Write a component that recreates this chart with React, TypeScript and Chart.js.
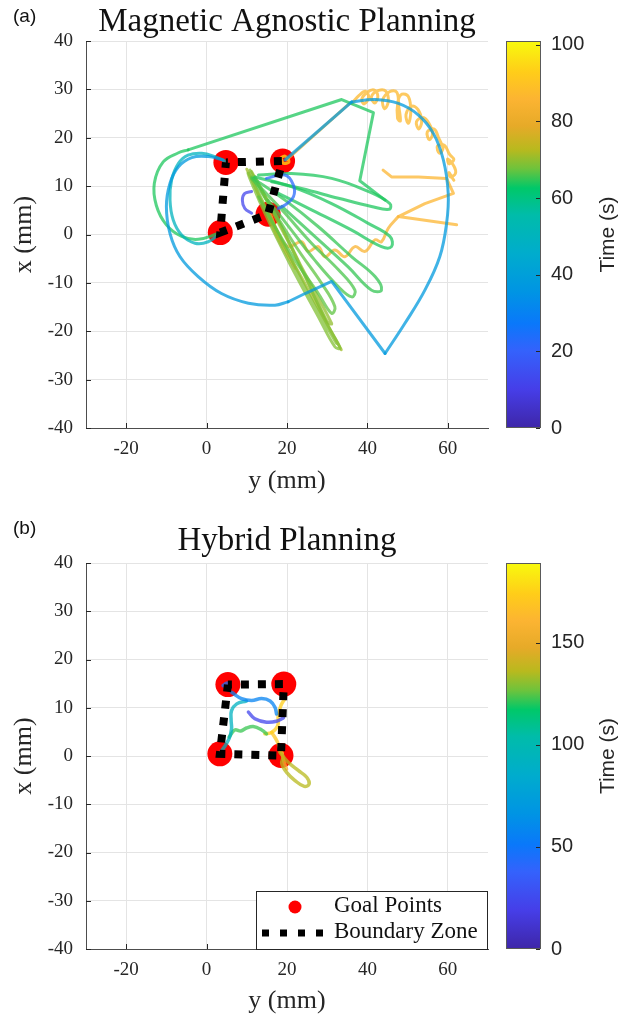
import React, { useEffect, useRef } from "react";
import { Chart, registerables } from "chart.js";

Chart.register(...registerables);

type P = [number, number]; // [y (mm) horizontal, x (mm) vertical]

// ---------------- axes / colour bar ----------------
const horizTicks = [-20, 0, 20, 40, 60];
const vertTicks = [-40, -30, -20, -10, 0, 10, 20, 30, 40];
const timeTicksA = [0, 20, 40, 60, 80, 100];
const timeTicksB = [0, 50, 100, 150];
const timeMaxA = 101;
const timeMaxB = 189;

// parula-like colour map
const cmapStops = [0, 0.1, 0.2, 0.27, 0.35, 0.45, 0.55, 0.62, 0.67, 0.72, 0.78, 0.85, 0.92, 1];
const cmapColors: number[][] = [
  [62, 38, 168],
  [70, 62, 232],
  [52, 98, 252],
  [10, 120, 250],
  [0, 148, 228],
  [0, 172, 205],
  [0, 188, 170],
  [0, 200, 105],
  [110, 195, 60],
  [185, 185, 30],
  [230, 170, 40],
  [252, 180, 50],
  [255, 205, 25],
  [248, 250, 13],
];

// ---------------- (a) Magnetic Agnostic Planning ----------------
const goalsA: P[] = [[4.8, 14.9], [18.9, 15.2], [15.3, 4.2], [3.4, 0.4]];

const magPurpleArc: P[] = [[11.2, 8.9], [9.5, 8.5], [8.9, 7.1], [9.5, 5.4], [11.2, 4.4]];
const magBlueRing: P[] = [[14.9, 11.6], [19.5, 12.3], [21.6, 10.2], [21.6, 7.8], [19.5, 6.1], [17.8, 5.4]];
const magBlueLeft: P[] = [[4.1, 15.4], [0.4, 16.1], [-3.7, 15.9], [-7.0, 14.0], [-9.1, 10.6], [-10.0, 5.8], [-9.1, 0.2], [-6.6, -4.6], [-2.1, -8.7], [3.7, -12.2], [10.4, -14.2], [17.0, -14.6], [20.3, -13.9]];
const magBlueBottom: P[] = [[20.3, -13.9], [24.5, -12.2], [31.1, -9.7], [44.4, -24.6]];
const magBlueRight: P[] = [[44.4, -24.6], [49.3, -18.4], [54.3, -11.5], [58.0, -4.6], [59.7, 2.3], [60.1, 8.5], [58.9, 15.4], [56.4, 20.9], [52.7, 24.7], [47.7, 27.1], [41.9, 27.9], [36.1, 27.4]];
const magBlueTop: P[] = [[36.1, 27.4], [19.5, 15.4]];
const magTealLoop: P[] = [[5.0, 15.0], [2.1, 16.1], [-1.2, 16.8], [-4.6, 16.4], [-7.0, 14.7], [-8.7, 11.3], [-9.1, 7.1], [-8.3, 3.0], [-6.2, -0.1], [-2.9, -1.8], [0.4, -1.5], [3.3, 0.2]];
const magGreenLeft: P[] = [[2.9, 0.2], [-2.1, -1.0], [-6.2, -0.4], [-10.0, 2.0], [-12.5, 6.0], [-13.0, 10.6], [-10.8, 15.0], [-7.0, 16.9], [-4.6, 17.5]];
const magGreenTop: P[] = [[-4.6, 17.5], [33.6, 27.9], [41.5, 25.2], [38.1, 11.1], [44.4, 7.1]];
const magPetalA: P[] = [[12.9, 12.3], [21.1, 12.6], [31.1, 11.6], [40.2, 8.9], [45.6, 6.4], [45.4, 5.2], [41.0, 5.8], [32.8, 7.5], [23.6, 9.5], [16.2, 10.9]];
const magPetalB: P[] = [[12.0, 11.9], [21.1, 9.9], [31.1, 6.4], [40.2, 2.3], [45.6, -0.4], [46.0, -2.5], [43.5, -2.5], [36.1, 0.9], [26.1, 5.1], [16.2, 9.2]];
const magPetalC: P[] = [[11.6, 11.6], [19.5, 7.1], [27.8, 1.6], [36.1, -4.6], [41.9, -8.7], [43.5, -11.5], [41.0, -11.5], [35.2, -6.7], [26.9, -0.4], [18.7, 5.8]];
const magPetalD: P[] = [[11.2, 11.6], [18.7, 5.1], [26.1, -1.8], [32.8, -7.3], [36.9, -11.5], [36.1, -12.9], [32.8, -10.8], [26.9, -5.3], [21.1, 0.9], [15.3, 7.1]];
const magPetalE: P[] = [[11.2, 11.9], [17.0, 4.4], [22.8, -3.2], [28.6, -10.1], [31.9, -14.9], [31.1, -16.3], [27.8, -12.2], [22.0, -5.3], [17.0, 1.6], [12.9, 7.8]];
const magBundleA: P[] = [[10.8, 13.3], [17.8, 3.0], [24.5, -8.7], [30.3, -19.0], [33.2, -23.5], [31.9, -23.2], [27.8, -17.0], [21.1, -6.7], [14.5, 4.4], [10.4, 12.6], [19.5, -2.5], [26.1, -13.5], [32.3, -22.5]];
const magBundleB: P[] = [[11.2, 13.0], [23.6, -6.7], [31.1, -18.4], [30.0, -18.0], [22.0, -4.0], [12.0, 12.0]];
const magBundleC: P[] = [[10.0, 13.5], [16.5, 2.0], [25.0, -11.0], [33.5, -23.8]];
const magOrangeLink: P[] = [[19.9, 15.4], [35.7, 27.2]];
const magOrangeCoil: P[] = [
  [36.1, 27.1], [38.0, 28.8], [39.5, 29.6], [40.3, 28.4], [39.2, 27.0], [38.6, 28.0], [40.0, 29.4],
  [41.6, 29.9], [42.6, 28.6], [41.8, 27.2], [41.0, 28.5], [42.8, 29.8],
  [44.6, 29.6], [45.2, 27.5], [44.3, 26.0], [43.8, 27.8], [45.5, 29.5],
  [47.3, 29.4], [47.8, 26.5], [48.2, 23.5], [47.5, 24.0], [47.6, 27.5], [48.6, 29.0],
  [50.2, 28.5], [50.8, 25.5], [50.2, 23.0], [49.6, 24.8], [51.0, 26.5],
  [52.6, 25.8], [53.5, 23.5], [52.8, 21.8], [52.2, 23.3], [53.8, 24.2],
  [55.3, 23.0], [56.2, 20.8], [55.4, 19.6], [54.9, 21.2], [56.6, 21.8],
  [57.8, 19.8], [58.8, 17.8], [57.9, 16.8], [57.4, 18.3], [59.2, 18.4],
  [60.4, 16.6], [61.5, 15.5], [60.3, 14.6], [60.0, 15.6], [61.6, 14.0], [61.9, 12.6], [60.6, 11.9], [60.3, 12.8], [61.5, 11.2],
];
const magOrangeZ: P[] = [[43.9, 13.3], [46.0, 11.9], [52.7, 11.9], [59.7, 11.6], [61.4, 8.5], [54.3, 6.4], [47.7, 3.7], [62.2, 2.0]];
const magOrangeLower: P[] = [[15.8, 4.4], [17.8, 0.2], [20.3, -2.5], [23.6, -1.5], [25.3, -3.5], [27.8, -2.5], [29.4, -4.6], [31.9, -3.2], [34.4, -4.6], [36.9, -2.5], [39.4, -3.5], [41.9, -1.1], [43.5, -1.5], [45.2, 1.3], [47.7, 3.7]];
const magOrangeUnder: P[] = [[15.3, 4.0], [17.0, 0.5], [19.5, -3.5], [22.0, -7.0]];
const magYellowBlob: P[] = [[18.2, 15.7], [19.5, 16.2], [20.5, 15.0], [19.1, 14.7], [18.7, 15.4]];

const magSegments: P[][] = [
  magPurpleArc, magBlueRing, magBlueLeft, magBlueBottom, magBlueRight, magBlueTop, magTealLoop,
  magGreenLeft, magGreenTop, magPetalA, magPetalB, magPetalC, magPetalD, magPetalE,
  magBundleA, magBundleB, magBundleC, magOrangeLink, magOrangeCoil, magOrangeZ, magOrangeLower, magOrangeUnder, magYellowBlob,
];
const magSegmentTimes = [12, 22, 38, 38, 38, 38, 50, 64, 64, 64, 64, 65, 66, 67, 69, 70, 71, 86, 87, 86, 85, 84, 96];
const magStraight: P[][] = [magBlueBottom, magBlueTop, magGreenTop, magOrangeLink, magOrangeZ];

// ---------------- (b) Hybrid Planning ----------------
const goalsB: P[] = [[5.3, 14.8], [19.2, 14.9], [18.5, 0.1], [3.3, 0.45]];

const hybPurpleArc: P[] = [[10.4, 9.1], [12.0, 7.7], [14.9, 7.0], [17.4, 7.2], [19.1, 7.9]];
const hybBlueBlob: P[] = [[4.1, 14.6], [5.0, 15.1], [5.6, 14.8], [4.6, 14.4]];
const hybBlue: P[] = [[6.2, 13.2], [8.7, 11.9], [11.2, 11.5], [13.7, 11.9], [15.8, 11.4], [17.0, 10.1], [17.4, 8.7]];
const hybTeal: P[] = [[9.9, 11.4], [7.5, 10.8], [6.2, 9.4], [6.1, 7.4], [6.2, 5.6], [5.6, 3.6], [4.1, 1.5], [3.3, 0.6]];
const hybGreen: P[] = [[5.6, 3.9], [7.0, 5.4], [8.5, 5.2], [9.9, 5.8], [11.6, 6.1], [13.7, 5.4], [14.9, 4.6]];
const hybOliveLoop: P[] = [[18.2, 0.8], [20.3, -1.3], [22.8, -3.0], [24.9, -4.4], [25.5, -5.8], [24.3, -6.3], [22.0, -5.1], [19.9, -3.4], [18.7, -1.6], [19.1, -0.2]];
const hybOrange: P[] = [[18.8, 0.5], [19.3, -1.3], [19.9, -2.7]];
const hybYellow: P[] = [[19.5, 11.9], [18.5, 10.5], [17.8, 8.4], [17.7, 6.3], [16.2, 4.9], [14.5, 4.6]];
const hybYellowDown: P[] = [[16.2, 4.9], [17.5, 3.1], [18.3, 1.4], [18.8, 0.6]];

const hybSegments: P[][] = [hybPurpleArc, hybBlueBlob, hybBlue, hybTeal, hybGreen, hybOliveLoop, hybOrange, hybYellow, hybYellowDown];
const hybSegmentTimes = [23, 48, 57, 92, 122, 136, 158, 174, 170];
const hybStraight: P[][] = [];

// ---------------- helpers ----------------
const serif = '"Liberation Serif", "Times New Roman", serif';
const sans = '"Liberation Sans", Arial, sans-serif';
const ink = "#262626";

function cmap(f: number, alpha = 1): string {
  const v = Math.max(0, Math.min(1, f));
  let i = 0;
  while (i < cmapStops.length - 2 && v > cmapStops[i + 1]) i++;
  const a = cmapStops[i];
  const b = cmapStops[i + 1];
  const u = (v - a) / (b - a);
  const c0 = cmapColors[i];
  const c1 = cmapColors[i + 1];
  const c = c0.map((x, k) => Math.round(x + (c1[k] - x) * u));
  return `rgba(${c[0]},${c[1]},${c[2]},${alpha})`;
}

const toXY = (pts: P[]) => pts.map(([y, x]) => ({ x: y, y: x }));

interface PanelSpec {
  title: string;
  label: string;
  goals: P[];
  boundaryOrder: number[];
  segments: P[][];
  times: number[];
  straight: P[][];
  timeMax: number;
  timeTicks: number[];
  lineWidth: number;
  dashWidth: number;
  dash: number[];
  dashOffset: number;
  width: number;
  height: number;
  padTop: number;
  xAxisHeight: number;
  xTitlePadBottom: number;
  titleGap: number;
  labelY: number;
  legend: boolean;
}

function makeChart(canvas: HTMLCanvasElement, spec: PanelSpec) {
  const boundary: P[] = spec.boundaryOrder.map((i) => spec.goals[i]);

  const decor = {
    id: "decor",
    afterDraw(chart: any) {
      const ctx: CanvasRenderingContext2D = chart.ctx;
      const area = chart.chartArea;
      const xs = chart.scales.x;
      const ys = chart.scales.y;
      const cb = chart.scales.cb;
      ctx.save();

      // inward tick marks
      ctx.strokeStyle = ink;
      ctx.lineWidth = 1;
      ctx.beginPath();
      horizTicks.forEach((v) => {
        const px = Math.round(xs.getPixelForValue(v)) + 0.5;
        ctx.moveTo(px, area.bottom);
        ctx.lineTo(px, area.bottom - 5);
      });
      vertTicks.forEach((v) => {
        const py = Math.round(ys.getPixelForValue(v)) + 0.5;
        ctx.moveTo(area.left, py);
        ctx.lineTo(area.left + 5, py);
      });
      ctx.stroke();

      // title
      ctx.fillStyle = "#111";
      ctx.font = `33px ${serif}`;
      ctx.textAlign = "center";
      ctx.textBaseline = "alphabetic";
      ctx.fillText(spec.title, (area.left + area.right) / 2, area.top - spec.titleGap);

      // panel label
      ctx.font = `19px ${sans}`;
      ctx.textAlign = "left";
      ctx.textBaseline = "middle";
      ctx.fillStyle = "#111";
      ctx.fillText(spec.label, 13, spec.labelY);

      // colour bar
      const cbLeft = area.right + 18;
      const cbW = 35;
      const top = cb.getPixelForValue(cb.max);
      const bottom = cb.getPixelForValue(cb.min);
      const g = ctx.createLinearGradient(0, bottom, 0, top);
      cmapStops.forEach((s) => g.addColorStop(s, cmap(s)));
      ctx.fillStyle = g;
      ctx.fillRect(cbLeft, top, cbW, bottom - top);
      ctx.strokeStyle = "#5a5a5a";
      ctx.lineWidth = 1;
      ctx.strokeRect(cbLeft + 0.5, top + 0.5, cbW - 1, bottom - top - 1);
      ctx.beginPath();
      spec.timeTicks.forEach((v) => {
        const py = Math.round(cb.getPixelForValue(v)) + 0.5;
        ctx.moveTo(cbLeft + cbW - 1, py);
        ctx.lineTo(cbLeft + cbW - 5, py);
      });
      ctx.strokeStyle = ink;
      ctx.stroke();

      ctx.save();
      ctx.translate(area.right + 120, (top + bottom) / 2);
      ctx.rotate(-Math.PI / 2);
      ctx.font = `21px ${sans}`;
      ctx.textAlign = "center";
      ctx.textBaseline = "middle";
      ctx.fillStyle = ink;
      ctx.fillText("Time (s)", 0, 0);
      ctx.restore();

      // legend
      if (spec.legend) {
        const bw = 232;
        const bh = 59;
        const bx = area.right - bw;
        const by = area.bottom - bh + 1;
        ctx.fillStyle = "#fff";
        ctx.fillRect(bx, by, bw, bh);
        ctx.strokeStyle = ink;
        ctx.lineWidth = 1;
        ctx.strokeRect(bx + 0.5, by + 0.5, bw - 1, bh - 1);
        ctx.fillStyle = "#ff0000";
        ctx.beginPath();
        ctx.arc(bx + 39, by + 16, 6.5, 0, Math.PI * 2);
        ctx.fill();
        ctx.save();
        ctx.strokeStyle = "#000";
        ctx.lineWidth = 7;
        ctx.lineCap = "butt";
        ctx.setLineDash([7, 11]);
        ctx.beginPath();
        ctx.moveTo(bx + 6, by + 42);
        ctx.lineTo(bx + 68, by + 42);
        ctx.stroke();
        ctx.restore();
        ctx.fillStyle = "#111";
        ctx.font = `23px ${serif}`;
        ctx.textAlign = "left";
        ctx.textBaseline = "middle";
        ctx.fillText("Goal Points", bx + 78, by + 15);
        ctx.fillText("Boundary Zone", bx + 78, by + 41);
      }
      ctx.restore();
    },
  };

  const datasets: any[] = [
    {
      type: "line",
      data: toXY(boundary),
      xAxisID: "x",
      yAxisID: "y",
      borderColor: "#000",
      borderWidth: spec.dashWidth,
      borderDash: spec.dash,
      borderDashOffset: spec.dashOffset,
      borderCapStyle: "butt",
      pointRadius: 0,
      tension: 0,
      fill: false,
      order: 0,
    },
    ...spec.segments.map((s, i) => ({
      type: "line",
      data: toXY(s),
      xAxisID: "x",
      yAxisID: "y",
      borderColor: cmap(spec.times[i] / spec.timeMax, 0.75),
      borderWidth: spec.lineWidth,
      pointRadius: 0,
      tension: spec.straight.includes(s) ? 0 : 0.4,
      borderCapStyle: "round",
      borderJoinStyle: "round",
      fill: false,
      order: 10,
    })),
    {
      type: "scatter",
      data: toXY(spec.goals),
      xAxisID: "x",
      yAxisID: "y",
      pointRadius: 12.5,
      pointBackgroundColor: "#ff0000",
      backgroundColor: "#ff0000",
      pointBorderWidth: 0,
      borderWidth: 0,
      order: 100,
    },
  ];

  const gridCfg = { color: "#e4e4e4", lineWidth: 1, drawTicks: false };
  const borderCfg = { display: true, color: "#4d4d4d", width: 1 };

  return new Chart(canvas, {
    type: "scatter",
    data: { datasets },
    plugins: [decor],
    options: {
      responsive: false,
      animation: false,
      events: [],
      layout: { padding: { top: spec.padTop, left: 0, right: 0, bottom: 0 } },
      plugins: {
        legend: { display: false },
        tooltip: { enabled: false },
        title: { display: false },
      },
      scales: {
        x: {
          type: "linear",
          position: "bottom",
          min: -30,
          max: 70,
          afterBuildTicks: (s: any) => {
            s.ticks = horizTicks.map((v) => ({ value: v }));
          },
          afterFit: (s: any) => {
            s.height = spec.xAxisHeight;
          },
          grid: gridCfg,
          border: borderCfg,
          ticks: { font: { family: serif, size: 19 }, color: ink, padding: 10, autoSkip: false, maxRotation: 0 },
          title: {
            display: true,
            text: "y (mm)",
            font: { family: serif, size: 26 },
            color: ink,
            padding: { top: 0, bottom: spec.xTitlePadBottom },
          },
        },
        y: {
          type: "linear",
          position: "left",
          min: -40,
          max: 40,
          afterBuildTicks: (s: any) => {
            s.ticks = vertTicks.map((v) => ({ value: v }));
          },
          afterFit: (s: any) => {
            s.width = 86;
          },
          grid: gridCfg,
          border: borderCfg,
          ticks: { font: { family: serif, size: 19 }, color: ink, padding: 13, autoSkip: false },
          title: {
            display: true,
            text: "x (mm)",
            font: { family: serif, size: 26 },
            color: ink,
            padding: { top: 9, bottom: 0 },
          },
        },
        cb: {
          type: "linear",
          position: "right",
          min: 0,
          max: spec.timeMax,
          afterBuildTicks: (s: any) => {
            s.ticks = spec.timeTicks.map((v) => ({ value: v }));
          },
          afterFit: (s: any) => {
            s.width = spec.width - 488;
          },
          grid: {
            display: true,
            drawOnChartArea: false,
            drawTicks: true,
            tickLength: 59,
            tickColor: "rgba(0,0,0,0)",
            color: "rgba(0,0,0,0)",
          },
          border: { display: false },
          ticks: { font: { family: sans, size: 20 }, color: ink, padding: 4, autoSkip: false },
        },
      },
    } as any,
  });
}

const specA: PanelSpec = {
  title: "Magnetic Agnostic Planning",
  label: "(a)",
  goals: goalsA,
  boundaryOrder: [0, 1, 2, 3, 0],
  segments: magSegments,
  times: magSegmentTimes,
  straight: magStraight,
  timeMax: timeMaxA,
  timeTicks: timeTicksA,
  lineWidth: 3,
  dashWidth: 8,
  dash: [8, 10],
  dashOffset: 6,
  width: 632,
  height: 505,
  padTop: 41,
  xAxisHeight: 77,
  xTitlePadBottom: 8,
  titleGap: 10,
  labelY: 16.5,
  legend: false,
};

const specB: PanelSpec = {
  title: "Hybrid Planning",
  label: "(b)",
  goals: goalsB,
  boundaryOrder: [0, 1, 2, 3, 0],
  segments: hybSegments,
  times: hybSegmentTimes,
  straight: hybStraight,
  timeMax: timeMaxB,
  timeTicks: timeTicksB,
  lineWidth: 3.5,
  dashWidth: 8,
  dash: [8, 9],
  dashOffset: 4,
  width: 632,
  height: 512,
  padTop: 58,
  xAxisHeight: 68,
  xTitlePadBottom: 0,
  titleGap: 13,
  labelY: 24,
  legend: true,
};

function Panel({ spec, top }: { spec: PanelSpec; top: number }) {
  const ref = useRef<HTMLCanvasElement>(null);
  useEffect(() => {
    const chart = makeChart(ref.current as HTMLCanvasElement, spec);
    return () => chart.destroy();
  }, [spec]);
  return (
    <canvas
      ref={ref}
      width={spec.width}
      height={spec.height}
      style={{ position: "absolute", left: 0, top, width: spec.width, height: spec.height, display: "block" }}
    />
  );
}

export default function App() {
  return (
    <div style={{ position: "absolute", left: 0, top: 0, width: 632, height: 1017, background: "#fff", overflow: "hidden" }}>
      <Panel spec={specA} top={0} />
      <Panel spec={specB} top={505} />
    </div>
  );
}
